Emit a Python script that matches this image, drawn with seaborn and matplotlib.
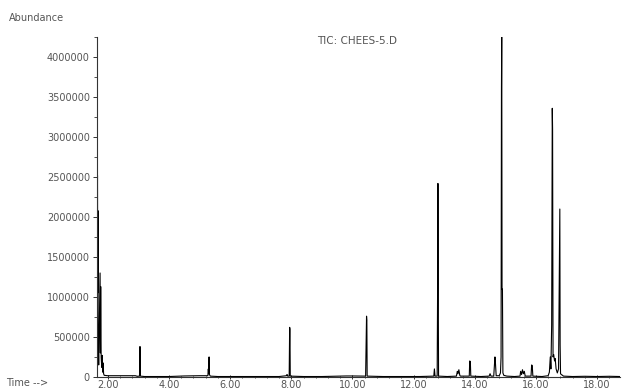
import matplotlib
matplotlib.use("Agg")
import matplotlib.pyplot as plt
from matplotlib.ticker import MultipleLocator, FuncFormatter
import seaborn as sns
import pandas as pd

# Retention time (min) and abundance
time_min = [
    1.640, 1.660, 1.667, 1.674, 1.685, 1.700, 1.745, 1.755, 1.765, 1.780,
    1.800, 1.810, 1.830, 1.845, 1.860, 1.880, 2.000, 2.400, 2.900, 2.960,
    3.035, 3.045, 3.050, 3.055, 3.065, 3.200, 3.600, 4.000, 4.500, 5.000,
    5.270, 5.285, 5.295, 5.310, 5.320, 5.350, 5.600, 6.200, 7.000, 7.600,
    7.840, 7.860, 7.880, 7.930, 7.945, 7.955, 7.965, 8.400, 9.000, 9.800,
    10.000, 10.430, 10.460, 10.470, 10.480, 11.000, 11.600, 12.200, 12.660, 12.680,
    12.700, 12.770, 12.785, 12.795, 12.805, 12.815, 13.100, 13.400, 13.430, 13.450,
    13.480, 13.510, 13.530, 13.820, 13.835, 13.855, 13.870, 14.200, 14.470, 14.500,
    14.530, 14.620, 14.645, 14.660, 14.675, 14.700, 14.800, 14.840, 14.860, 14.873,
    14.882, 14.892, 14.905, 14.920, 14.950, 15.050, 15.300, 15.480, 15.500, 15.530,
    15.560, 15.590, 15.620, 15.650, 15.840, 15.860, 15.880, 15.900, 16.200, 16.400,
    16.440, 16.470, 16.490, 16.515, 16.535, 16.545, 16.560, 16.580, 16.610, 16.630,
    16.660, 16.700, 16.740, 16.770, 16.782, 16.792, 16.805, 16.830, 16.870, 16.900,
    17.200, 17.600, 18.000, 18.400, 18.750,
]
abundance = [
    1000000, 2520000, 1050000, 2080000, 400000, 150000, 1300000, 300000, 1130000, 250000,
    120000, 270000, 60000, 175000, 40000, 20000, 15000, 15000, 15000, 8000,
    10000, 270000, 380000, 260000, 10000, 5000, 5000, 5000, 12000, 15000,
    15000, 100000, 40000, 250000, 30000, 10000, 5000, 5000, 5000, 5000,
    15000, 30000, 10000, 10000, 620000, 600000, 10000, 5000, 5000, 12000,
    12000, 10000, 760000, 710000, 10000, 5000, 5000, 5000, 10000, 100000,
    10000, 10000, 1160000, 2420000, 1180000, 10000, 5000, 10000, 70000, 40000,
    90000, 20000, 10000, 10000, 200000, 190000, 10000, 5000, 10000, 40000,
    10000, 10000, 150000, 250000, 180000, 15000, 15000, 50000, 250000, 3600000,
    4300000, 1100000, 1100000, 50000, 20000, 10000, 5000, 10000, 70000, 30000,
    90000, 40000, 70000, 10000, 10000, 150000, 140000, 10000, 5000, 15000,
    60000, 250000, 100000, 650000, 3360000, 3100000, 250000, 280000, 200000, 230000,
    100000, 50000, 100000, 1640000, 2100000, 400000, 40000, 30000, 20000, 10000,
    5000, 8000, 5000, 8000, 5000,
]

y_ticks = [0, 500000, 1000000, 1500000, 2000000, 2500000, 3000000, 3500000, 4000000]
x_ticks = [2, 4, 6, 8, 10, 12, 14, 16, 18]

df = pd.DataFrame({"Time": time_min, "Abundance": abundance})

sns.set_theme(style="ticks")
plt.rcParams["font.family"] = ["DejaVu Sans"]

fig = plt.figure(figsize=(6.25, 3.91), dpi=100)
ax = fig.add_axes([0.155, 0.036, 0.837, 0.869])

sns.lineplot(data=df, x="Time", y="Abundance", estimator=None, sort=False,
             color="black", linewidth=0.8, ax=ax)

ax.set_xlim(1.64, 18.75)
ax.set_ylim(0, 4250000)
ax.set_xlabel("")
ax.set_ylabel("")

txt_color = "#555555"
ax.set_yticks(y_ticks)
ax.yaxis.set_major_formatter(FuncFormatter(lambda v, p: f"{int(v)}"))
ax.set_xticks(x_ticks)
ax.xaxis.set_major_formatter(FuncFormatter(lambda v, p: f"{v:.2f}"))
ax.xaxis.set_minor_locator(MultipleLocator(0.4))
ax.yaxis.set_minor_locator(MultipleLocator(250000))

ax.tick_params(axis="both", which="major", labelsize=7, labelcolor=txt_color,
               color="#333333", width=0.7)
ax.tick_params(axis="y", which="major", length=3, pad=2)
ax.tick_params(axis="x", which="major", length=3, pad=1, direction="inout")
ax.tick_params(axis="both", which="minor", length=2, width=0.6, color="#333333")
ax.tick_params(axis="x", which="minor", direction="inout")

for s in ["top", "right"]:
    ax.spines[s].set_visible(False)
for s in ["left", "bottom"]:
    ax.spines[s].set_linewidth(0.8)
    ax.spines[s].set_color("#333333")

fig.text(0.014, 0.955, "Abundance", fontsize=7, color=txt_color, ha="left", va="center")
fig.text(0.010, 0.02, "Time -->", fontsize=7, color=txt_color, ha="left", va="center")
fig.text(0.572, 0.895, "TIC: CHEES-5.D", fontsize=7.5, color=txt_color, ha="center", va="center")

fig.savefig("out.png", dpi=100, facecolor="white")
